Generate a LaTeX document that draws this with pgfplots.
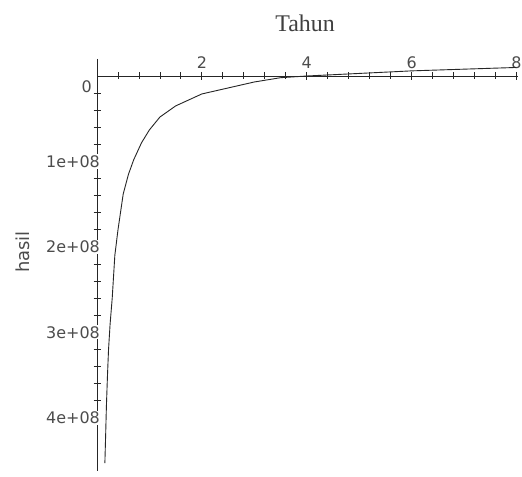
\documentclass[border=0pt]{standalone}
\usepackage{pgfplots}
\pgfplotsset{compat=1.18}
\usepackage{fontspec}
\setmainfont{Liberation Serif}
\newfontfamily\maplefont{DejaVu Sans}
\begin{document}
\begin{tikzpicture}[x=1bp,y=1bp]
\path[use as bounding box, fill=white] (0,0) rectangle (522,-477);
\begin{axis}[
  at={(97bp,-58.9bp)}, anchor=north west,
  scale only axis, width=421bp, height=412bp,
  xmin=0, xmax=8.03, ymin=-0.2e8, ymax=4.62e8,
  y dir=reverse,
  axis lines=middle,
  axis line style={-, line width=0.8bp, black!85},
  xtick={0,2,4,6,8}, xticklabels={,2,4,6,8},
  ytick={0,1e8,2e8,3e8,4e8}, yticklabels={,1e+08,2e+08,3e+08,4e+08},
  minor x tick num=4, minor y tick num=4,
  tick align=center, major tick length=8bp, minor tick length=7bp,
  tick style={line width=0.8bp, black!85},
  scaled y ticks=false,
  ticklabel style={font=\maplefont\fontsize{16}{16}\selectfont, text=black!70},
  xticklabel style={anchor=south, inner sep=0pt, yshift=11bp},
  yticklabel style={anchor=east, fill=white, inner sep=1bp, xshift=8bp},
  clip=false,
]
\addplot[black!85, line width=0.9bp] coordinates {
(0.15,4.53e8) (0.165,4.2e8) (0.18,3.85e8) (0.2,3.5e8) (0.22,3.2e8)
(0.25,2.9e8) (0.29,2.6e8) (0.34,2.1e8) (0.4,1.8e8) (0.5,1.38e8)
(0.6,1.15e8) (0.7,0.98e8) (0.85,0.78e8) (1.0,0.63e8) (1.2,0.48e8)
(1.5,0.35e8) (2.0,0.21e8) (2.5,0.14e8) (3.0,0.07e8) (3.5,0.02e8)
(4.0,0.0) (5.0,-0.03e8) (6.0,-0.06e8) (7.0,-0.08e8) (8.0,-0.1e8)
};
\node[anchor=north east, inner sep=0pt, font=\maplefont\fontsize{16}{16}\selectfont, text=black!70, xshift=-5bp, yshift=-4bp] at (axis cs:0,0) {0};
\end{axis}
\node[anchor=base, font=\fontsize{24}{24}\selectfont, text=black!75] at (305,-32) {Tahun};
\node[rotate=90, font=\maplefont\fontsize{18}{18}\selectfont, text=black!70] at (22.5,-252) {hasil};
\end{tikzpicture}
\end{document}
